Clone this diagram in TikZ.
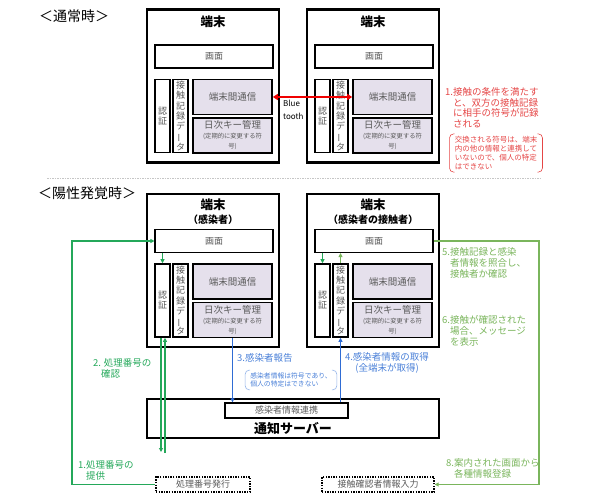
\documentclass[tikz,border=0pt]{standalone}
\usepackage{fontspec}
\setmainfont{Noto Sans CJK JP}
\usetikzlibrary{arrows.meta}

\definecolor{lav}{HTML}{E5E0EC}
\definecolor{txtgray}{HTML}{595959}
\definecolor{redtxt}{HTML}{E54646}
\definecolor{redarr}{HTML}{F00000}
\definecolor{bluetxt}{HTML}{4A80D8}
\definecolor{bluearr}{HTML}{2F6CD4}
\definecolor{grn}{HTML}{24A85A}
\definecolor{olive}{HTML}{7AB55C}

\newcommand\fsz[2]{\fontsize{#1}{#2}\selectfont}
\newcommand\tatebar{\rotatebox[origin=c]{90}{ー}}

\begin{document}
\begin{tikzpicture}[x=1pt, y=-1pt,
  every node/.style={inner sep=0pt, align=center},
  term/.style={draw, line width=2.4pt, minimum width=132pt, minimum height=153pt},
  ttl/.style={font=\fsz{12.5}{14}\bfseries},
  subttl/.style={font=\fsz{10}{12}\bfseries},
  gamen/.style={draw, line width=1.1pt, fill=white, minimum width=118pt, minimum height=23pt, text=txtgray, font=\fsz{9}{10}},
  vbox/.style={draw, line width=1.6pt, fill=white, minimum width=15pt, minimum height=73pt, text=txtgray, font=\fsz{9}{10.3}},
  pbox/.style={draw, line width=1.6pt, fill=lav, minimum width=79pt, minimum height=35pt, text=txtgray, font=\fsz{9.5}{10}},
  dotbox/.style={draw, line width=1.4pt, dash pattern=on 1.4pt off 1.2pt, minimum height=15pt, font=\fsz{9}{10}, text=txtgray},
  lbl/.style={align=left, anchor=west, font=\fsz{9.5}{11}},
  note/.style={align=left, inner xsep=5pt, inner ysep=2.5pt},
  bracket/.style={rounded corners=4pt, line width=0.6pt},
  arr/.style={-{Triangle[length=4pt, width=4pt]}, line width=1.1pt},
]
\useasboundingbox (0,0) rectangle (590,500);

% titles
\node[font=\fsz{14}{16}] (normal) at (74,16) {＜通常時＞};
\node[font=\fsz{14}{16}] (positive) at (87,193) {＜陽性発覚時＞};

% normal time, left terminal
\node[term] (t1) at (213,86) {};
\node[ttl] (t1title) at (213,22) {端末};
\node[gamen] (t1gamen) at (214,56.5) {画面};
\node[vbox] (t1ninsho) at (162.5,116) {認\\証};
\node[vbox] (t1kiroku) at (180.5,116) {接\\触\\記\\録\\デ\\\tatebar\\タ};
\node[pbox] (t1tsushin) at (232.5,97) {端末間通信};
\node[pbox] (t1key) at (232.5,135.5) {日次キー管理\\{\fsz{6.3}{7.5}(定期的に変更する符}\\{\fsz{6.3}{7.5}号)}};

% normal time, right terminal
\node[term] (t2) at (373,86) {};
\node[ttl] (t2title) at (373,22) {端末};
\node[gamen] (t2gamen) at (374,56.5) {画面};
\node[vbox] (t2ninsho) at (322.5,116) {認\\証};
\node[vbox] (t2kiroku) at (340.5,116) {接\\触\\記\\録\\デ\\\tatebar\\タ};
\node[pbox] (t2tsushin) at (392.5,97) {端末間通信};
\node[pbox] (t2key) at (392.5,135.5) {日次キー管理\\{\fsz{6.3}{7.5}(定期的に変更する符}\\{\fsz{6.3}{7.5}号)}};

\draw[redarr, line width=2pt, {Triangle[length=5pt, width=6pt]}-{Triangle[length=5pt, width=6pt]}] (t1tsushin.east) -- (t2tsushin.west);
\node[lbl, font=\fsz{8}{12.5}] (bluetooth) at (283,110) {Blue\\tooth};

\node[lbl, text=redtxt, font=\fsz{9.5}{10.5}] (step1) at (445,107.5) {1.接触の条件を満たす\\\phantom{1.}と、双方の接触記録\\\phantom{1.}に相手の符号が記録\\\phantom{1.}される};
\node[note, text=redtxt, font=\fsz{7.5}{8.7}] (rnote) at (496,153) {交換される符号は、端末\\内の他の情報と連携して\\いないので、個人の特定\\はできない};
\draw[bracket, redtxt] ([xshift=5pt]rnote.north west) -- (rnote.north west) -- (rnote.south west) -- ([xshift=5pt]rnote.south west);
\draw[bracket, redtxt] ([xshift=-5pt]rnote.north east) -- (rnote.north east) -- (rnote.south east) -- ([xshift=-5pt]rnote.south east);

\draw[gray!45, line width=0.8pt, dash pattern=on 1.5pt off 1pt] (47,178) -- (540,178);

% positive time, infected terminal
\node[term] (b1) at (213,270.5) {};
\node[ttl] (b1title) at (213,205) {端末};
\node[subttl] (b1sub) at (213,220) {（感染者）};
\node[gamen] (b1gamen) at (214,241) {画面};
\node[vbox] (b1ninsho) at (162.5,300.5) {認\\証};
\node[vbox] (b1kiroku) at (180.5,300.5) {接\\触\\記\\録\\デ\\\tatebar\\タ};
\node[pbox] (b1tsushin) at (232.5,281.5) {端末間通信};
\node[pbox] (b1key) at (232.5,320) {日次キー管理\\{\fsz{6.3}{7.5}(定期的に変更する符}\\{\fsz{6.3}{7.5}号)}};

% positive time, contact terminal
\node[term] (b2) at (373,270.5) {};
\node[ttl] (b2title) at (373,205) {端末};
\node[subttl] (b2sub) at (373,220) {（感染者の接触者）};
\node[gamen] (b2gamen) at (374,241) {画面};
\node[vbox] (b2ninsho) at (322.5,300.5) {認\\証};
\node[vbox] (b2kiroku) at (340.5,300.5) {接\\触\\記\\録\\デ\\\tatebar\\タ};
\node[pbox] (b2tsushin) at (392.5,281.5) {端末間通信};
\node[pbox] (b2key) at (392.5,320) {日次キー管理\\{\fsz{6.3}{7.5}(定期的に変更する符}\\{\fsz{6.3}{7.5}号)}};

% server
\node[draw, line width=2.4pt, minimum width=292pt, minimum height=39pt] (server) at (293,418.5) {};
\node[draw, line width=1.4pt, fill=white, minimum width=123pt, minimum height=15pt, font=\fsz{9}{10}, text=txtgray] (renkei) at (286.5,410.5) {感染者情報連携};
\node[font=\fsz{13}{15}\bfseries] (servername) at (293,429) {通知サーバー};

\node[dotbox, minimum width=94pt] (hakko) at (203,484.5) {処理番号発行};
\node[dotbox, minimum width=112pt] (nyuryoku) at (378,484.5) {接触確認者情報入力};

% green flow (infected)
\coordinate (g1) at (72,241);
\coordinate (g2dn) at (161,452);
\coordinate (g2up) at (165,453);
\draw[grn, arr] (hakko.west) -| (g1) -- (b1gamen.west);
\draw[grn, arr] (b1gamen.south -| b1ninsho.north) -- (b1ninsho.north);
\draw[grn, arr] (b1ninsho.south -| g2dn) -- (g2dn);
\draw[grn, arr] (g2up) -- (b1ninsho.south -| g2up);
\node[lbl, text=grn] (step1b) at (78,470.5) {1.処理番号の\\\phantom{1.}提供};
\node[lbl, text=grn] (step2) at (93,368.5) {2. 処理番号の\\\phantom{2.}確認};

% blue flow
\draw[bluearr, arr] (b1key.south) -- (b1key.south |- renkei.north);
\draw[bluearr, arr] (b2kiroku.south |- renkei.north) -- (b2kiroku.south);
\node[lbl, text=bluetxt] (step3) at (237,358) {3.感染者報告};
\node[note, text=bluetxt, font=\fsz{6.8}{8}] (bnote) at (291,380) {感染者情報は符号であり、\\個人の特定はできない};
\draw[bracket, bluetxt!60] ([xshift=5pt]bnote.north west) -- (bnote.north west) -- (bnote.south west) -- ([xshift=5pt]bnote.south west);
\draw[bracket, bluetxt!60] ([xshift=-5pt]bnote.north east) -- (bnote.north east) -- (bnote.south east) -- ([xshift=-5pt]bnote.south east);
\node[text=bluetxt, font=\fsz{9.5}{11}] (step4) at (387,362.5) {4.感染者情報の取得\\(全端末が取得)};

% olive flow (contact)
\coordinate (o2) at (539,484.5);
\draw[grn, arr] (b2gamen.south -| b2ninsho.north) -- (b2ninsho.north);
\draw[olive, arr] (b2kiroku.north) -- (b2gamen.south -| b2kiroku.north);
\draw[olive, arr] (b2gamen.east) -| (o2) -- (nyuryoku.east);
\node[lbl, text=olive] (step5) at (442,263) {5.接触記録と感染\\\phantom{5.}者情報を照合し、\\\phantom{5.}接触者か確認};
\node[lbl, text=olive] (step6) at (442,330.5) {6.接触が確認された\\\phantom{6.}場合、メッセージ\\\phantom{6.}を表示};
\node[lbl, text=olive] (step8) at (446,468.5) {8.案内された画面から\\\phantom{8.}各種情報登録};

\end{tikzpicture}
\end{document}
